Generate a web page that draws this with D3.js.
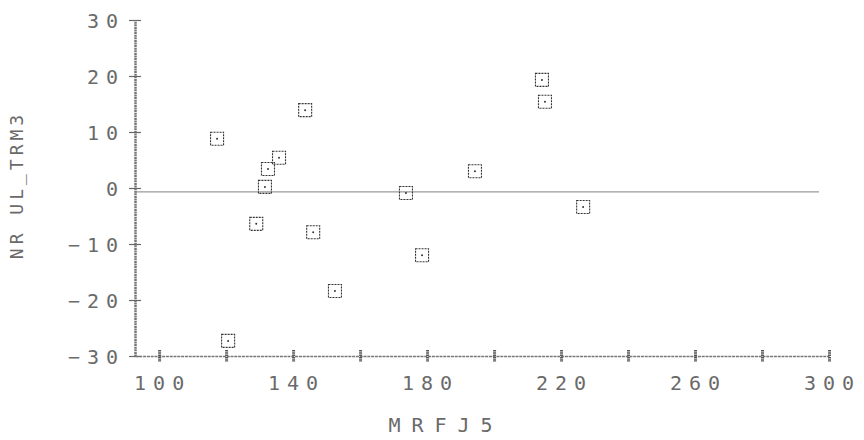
<!DOCTYPE html>
<html>
<head>
<meta charset="utf-8">
<script src="https://cdn.jsdelivr.net/npm/d3@7"></script>
<style>
  body { margin: 0; background: #fff; }
  text { font-family: "DejaVu Sans Mono", monospace; fill: #6a6a6a; }
</style>
</head>
<body>
<svg width="864" height="440"></svg>
<script>
const width = 864;
const height = 440;

// values
const mrfj5 = [117.3, 120.6, 129.0, 131.6, 132.5, 135.8, 143.6, 146.0, 152.5, 173.7, 178.5, 194.3, 214.3, 215.2, 226.6];
const nrUlTrm = [8.8, -27.3, -6.4, 0.2, 3.4, 5.4, 13.9, -7.9, -18.4, -0.9, -12.0, 3.0, 19.3, 15.4, -3.4];
const xTickMarks = [100, 120, 140, 160, 180, 200, 220, 240, 260, 280, 300];
const xTickLabels = [100, 140, 180, 220, 260, 300];
const yTicks = [-30, -20, -10, 0, 10, 20, 30];
const refLine = { value: -0.7, from: 92.8, to: 297 };

const svg = d3.select("svg");

const x = d3.scaleLinear().domain([92.8, 300]).range([135, 829]);
const y = d3.scaleLinear().domain([-30, 30]).range([356, 20]);

// reference line near zero
svg.append("line")
    .attr("x1", x(refLine.from))
    .attr("x2", x(refLine.to))
    .attr("y1", y(refLine.value))
    .attr("y2", y(refLine.value))
    .attr("stroke", "#999")
    .attr("stroke-width", 1.2);

// y axis
const yAxis = d3.axisLeft(y)
    .tickValues(yTicks)
    .tickSize(0)
    .tickPadding(17)
    .tickFormat(d3.format("d"));

const gy = svg.append("g")
    .attr("transform", `translate(${x(92.8)},0)`)
    .call(yAxis);
gy.select(".domain")
    .attr("stroke", "#777")
    .attr("stroke-width", 2.5)
    .attr("stroke-dasharray", "2,0.6");
gy.selectAll(".tick line")
    .attr("x1", -6).attr("x2", 6)
    .attr("stroke", "#666").attr("stroke-width", 1.2);
gy.selectAll(".tick text")
    .style("font-size", "20px")
    .attr("letter-spacing", "7px")
    .attr("dx", "7px")
    .attr("dy", "0.36em");

// x axis tick marks
const xAxisMarks = d3.axisBottom(x)
    .tickValues(xTickMarks)
    .tickSize(0)
    .tickFormat("");

const gx = svg.append("g")
    .attr("transform", `translate(0,${y(-30)})`)
    .call(xAxisMarks);
gx.select(".domain")
    .attr("stroke", "#777")
    .attr("stroke-width", 1.5)
    .attr("stroke-dasharray", "3,0.8");
gx.selectAll(".tick line")
    .attr("y1", -6).attr("y2", 6)
    .attr("stroke", "#555").attr("stroke-width", 3)
    .attr("stroke-dasharray", "1.5,0.8");

// x axis labels
const xAxisLabels = d3.axisBottom(x)
    .tickValues(xTickLabels)
    .tickSize(0)
    .tickPadding(20)
    .tickFormat(d3.format("d"));

const gxl = svg.append("g")
    .attr("transform", `translate(0,${y(-30)})`)
    .call(xAxisLabels);
gxl.select(".domain").remove();
gxl.selectAll(".tick text")
    .style("font-size", "20px")
    .attr("letter-spacing", "7px")
    .attr("dx", "3px");

// points
const pts = svg.append("g");
const s = 13;
pts.selectAll("rect")
    .data(mrfj5)
    .enter()
    .append("rect")
    .attr("x", d => x(d) - s / 2)
    .attr("y", (d, i) => y(nrUlTrm[i]) - s / 2)
    .attr("width", s)
    .attr("height", s)
    .attr("fill", "none")
    .attr("stroke", "#333")
    .attr("stroke-width", 1.1)
    .attr("stroke-dasharray", "2,1");
pts.selectAll("circle")
    .data(mrfj5)
    .enter()
    .append("circle")
    .attr("cx", d => x(d))
    .attr("cy", (d, i) => y(nrUlTrm[i]))
    .attr("r", 1)
    .attr("fill", "#333");

// axis titles
svg.append("text")
    .attr("x", 446)
    .attr("y", 432)
    .attr("text-anchor", "middle")
    .attr("letter-spacing", "11px")
    .style("font-size", "20px")
    .text("MRFJ5");

svg.append("text")
    .attr("transform", "translate(23,185) rotate(-90)")
    .attr("text-anchor", "middle")
    .attr("letter-spacing", "4px")
    .style("font-size", "18px")
    .text("NR UL_TRM3");
</script>
</body>
</html>
